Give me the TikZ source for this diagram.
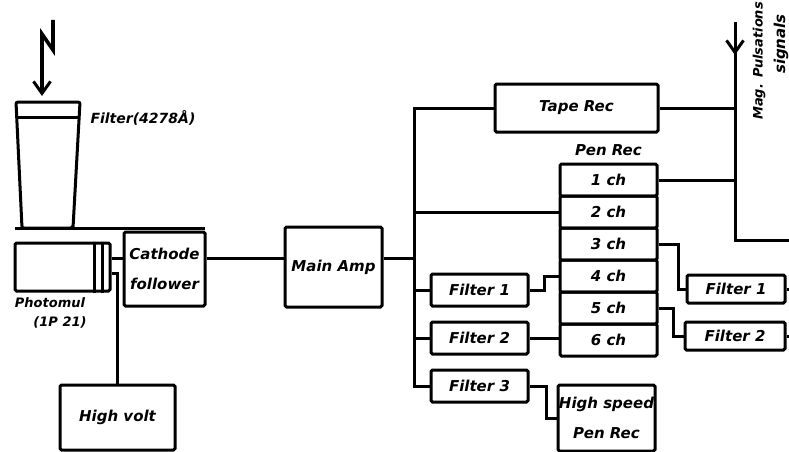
\documentclass[tikz,border=0pt]{standalone}
\usepackage{fontspec}
\setmainfont{DejaVu Sans}
\usetikzlibrary{arrows.meta}

\begin{document}
\begin{tikzpicture}[x=1pt, y=-1pt, line width=3pt,
	every node/.style={font=\fontsize{15}{30}\selectfont\bfseries\itshape, inner sep=0pt},
	blk/.style={draw, rounded corners=1.5pt, align=center},
	chbox/.style={blk, minimum width=97pt, minimum height=32pt},
	fbox/.style={blk, minimum width=97pt, minimum height=32pt},
	>={Straight Barb[length=12pt, width=17pt, line width=3pt]}]
	\useasboundingbox (0,0) rectangle (789,452);
	\draw[->, line width=3.6pt] (53,20) -- (53,50) -- (42,34) -- (42,96);
	\draw[rounded corners=2pt] (16,102) -- (80,102) -- (73,228) -- (22,228) -- cycle;
	\draw (17,117) -- (79,117);
	\draw (15,228) -- (205,228);
	\node[font=\fontsize{14}{16}\selectfont\bfseries\itshape] (filterlbl) at (143,118) {Filter(4278Å)};
	\node[blk, minimum width=95pt, minimum height=48pt] (photo) at (62.5,267) {};
	\draw ([xshift=-17pt]photo.north east) -- ([xshift=-17pt]photo.south east);
	\draw ([xshift=-9pt]photo.north east) -- ([xshift=-9pt]photo.south east);
	\node[font=\fontsize{13}{15}\selectfont\bfseries\itshape] (pmlbl) at (50,303) {Photomul};
	\node[font=\fontsize{13}{15}\selectfont\bfseries\itshape] (pmtype) at (60,322) {(1P 21)};
	\node[blk, minimum width=81pt, minimum height=74pt] (cath) at (164.5,269) {Cathode\\follower};
	\node[blk, minimum width=115pt, minimum height=65pt] (hv) at (117.5,417.5) {High volt};
	\node[blk, minimum width=97pt, minimum height=80pt] (amp) at (333.5,267) {Main Amp};
	\node[blk, minimum width=163pt, minimum height=48pt] (tape) at (576.5,108) {Tape Rec};
	\foreach \i in {1,...,6}
		\node[chbox] (ch\i) at (608.5,148+32*\i) {\i\ ch};
	\node (penlbl) at (608.5,150) {Pen Rec};
	\node[fbox] (f1L) at (479.5,290) {Filter 1};
	\node[fbox] (f2L) at (479.5,338) {Filter 2};
	\node[fbox] (f3L) at (479.5,386) {Filter 3};
	\node[blk, minimum width=97pt, minimum height=66pt] (hs) at (606.5,418) {High speed\\Pen Rec};
	\node[blk, minimum width=98pt, minimum height=28pt] (f1R) at (736,289) {Filter 1};
	\node[blk, minimum width=100pt, minimum height=28pt] (f2R) at (735,336) {Filter 2};
	\node[rotate=90, font=\fontsize{13}{15}\selectfont\bfseries\itshape] (maglbl) at (759,61) {Mag. Pulsations};
	\node[rotate=90] (siglbl) at (781,44) {signals};
	\coordinate (bus) at (414,386);
	\coordinate (magtop) at (735,22);
	\coordinate (magbot) at (735,240);
	\coordinate (magend) at (789,240);
	\coordinate (f1out) at (789,289);
	\coordinate (f2out) at (789,336);
	\draw (photo.east |- 0,258) -- (cath.west |- 0,258);
	\draw (photo.east |- 0,273) -| (hv.north);
	\draw (cath.east |- 0,258) -- (amp.west |- 0,258);
	\draw (amp.east |- 0,258) -- (bus |- 0,258);
	\draw (tape.west) -| (bus) -- (f3L.west);
	\draw (bus |- ch2.west) -- (ch2.west);
	\draw (bus |- f1L.west) -- (f1L.west);
	\draw (bus |- f2L.west) -- (f2L.west);
	\draw (f1L.east) -- ++(15,0) |- (ch4.west);
	\draw (f2L.east) -- (f2L.east -| ch6.west);
	\draw (f3L.east) -- ++(17,0) |- (hs.west);
	\draw (magtop) -- (magbot) -- (magend);
	\draw[->] (magtop) -- (735,55);
	\draw (tape.east) -- (tape.east -| magtop);
	\draw (ch1.east) -- (ch1.east -| magtop);
	\draw (ch3.east) -- ++(20,0) |- (f1R.west);
	\draw (ch5.east) -- ++(15,0) |- (f2R.west);
	\draw (f1R.east) -- (f1out);
	\draw (f2R.east) -- (f2out);
\end{tikzpicture}
\end{document}
